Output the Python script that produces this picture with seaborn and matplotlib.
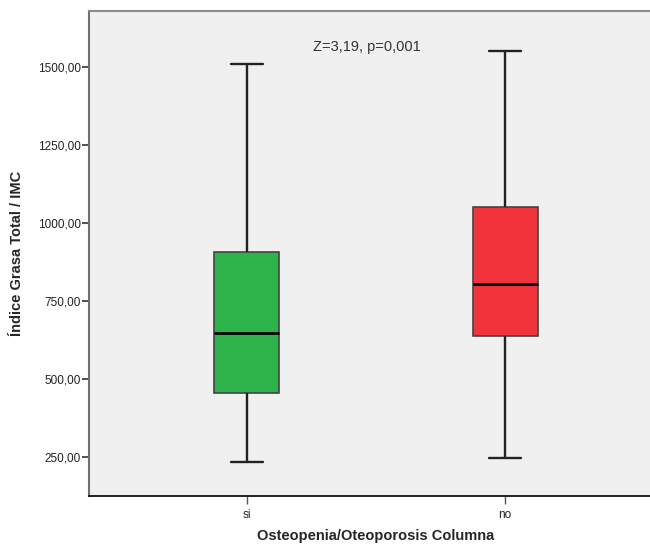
import numpy as np
import pandas as pd
import seaborn as sns
import matplotlib.pyplot as plt
from matplotlib.ticker import FuncFormatter

# Groups and their five-number summaries (min, Q1, median, Q3, max)
groups = ["si", "no"]
si_summary = [232, 453, 645, 905, 1508]
no_summary = [245, 638, 803, 1051, 1550]
box_colors = {"si": "#2db44a", "no": "#f1333c"}
yticks = [250, 500, 750, 1000, 1250, 1500]
annotation = "Z=3,19, p=0,001"
xlabel = "Osteopenia/Oteoporosis Columna"
ylabel = "Índice Grasa Total / IMC"

df = pd.DataFrame({
    "grupo": ["si"] * len(si_summary) + ["no"] * len(no_summary),
    "valor": si_summary + no_summary,
})

sns.set_theme(style="white")
plt.rcParams["font.family"] = ["Liberation Sans", "DejaVu Sans"]

fig = plt.figure(figsize=(6.5, 5.44), dpi=100)
fig.patch.set_facecolor("white")
W, H = 650, 544
ax = fig.add_axes([89 / W, 1 - 496 / H, (663 - 89) / W, (496 - 11) / H])
ax.set_facecolor("#f0f0f0")

sns.boxplot(
    data=df, x="grupo", y="valor", order=groups, hue="grupo",
    hue_order=groups, palette=box_colors, legend=False,
    whis=(0, 100), width=0.252, saturation=1, ax=ax,
    boxprops=dict(edgecolor="#444444", linewidth=1.2),
    medianprops=dict(color="black", linewidth=2),
    whiskerprops=dict(color="#222222", linewidth=1.7),
    capprops=dict(color="#222222", linewidth=1.7),
)

ax.set_xlim(-0.612, 1.612)
ax.set_ylim(124, 1678.5)
ax.set_yticks(yticks)
ax.yaxis.set_major_formatter(FuncFormatter(lambda v, p: f"{v:.2f}".replace(".", ",")))

ax.tick_params(axis="y", which="major", direction="out", length=5, width=1.2,
               color="#333333", labelsize=8.5, labelcolor="#222222", pad=1, left=True)
ax.tick_params(axis="x", which="major", direction="out", length=6, width=1.0,
               color="#555555", labelsize=8.5, labelcolor="#222222", pad=3, bottom=True)

for side in ["top", "right", "left", "bottom"]:
    ax.spines[side].set_visible(True)
ax.spines["top"].set_color("#8a8a8a")
ax.spines["top"].set_linewidth(1.5)
ax.spines["right"].set_color("#8a8a8a")
ax.spines["left"].set_color("#707070")
ax.spines["left"].set_linewidth(1.5)
ax.spines["bottom"].set_color("#111111")
ax.spines["bottom"].set_linewidth(1.3)

ax.set_xlabel(xlabel, fontsize=10.5, fontweight="bold", labelpad=6)
ax.set_ylabel(ylabel, fontsize=10.5, fontweight="bold", labelpad=10)

ax.text(0.465, 1563, annotation, ha="center", va="center", fontsize=10.5, color="#333333")

fig.savefig("out.png", dpi=100)
